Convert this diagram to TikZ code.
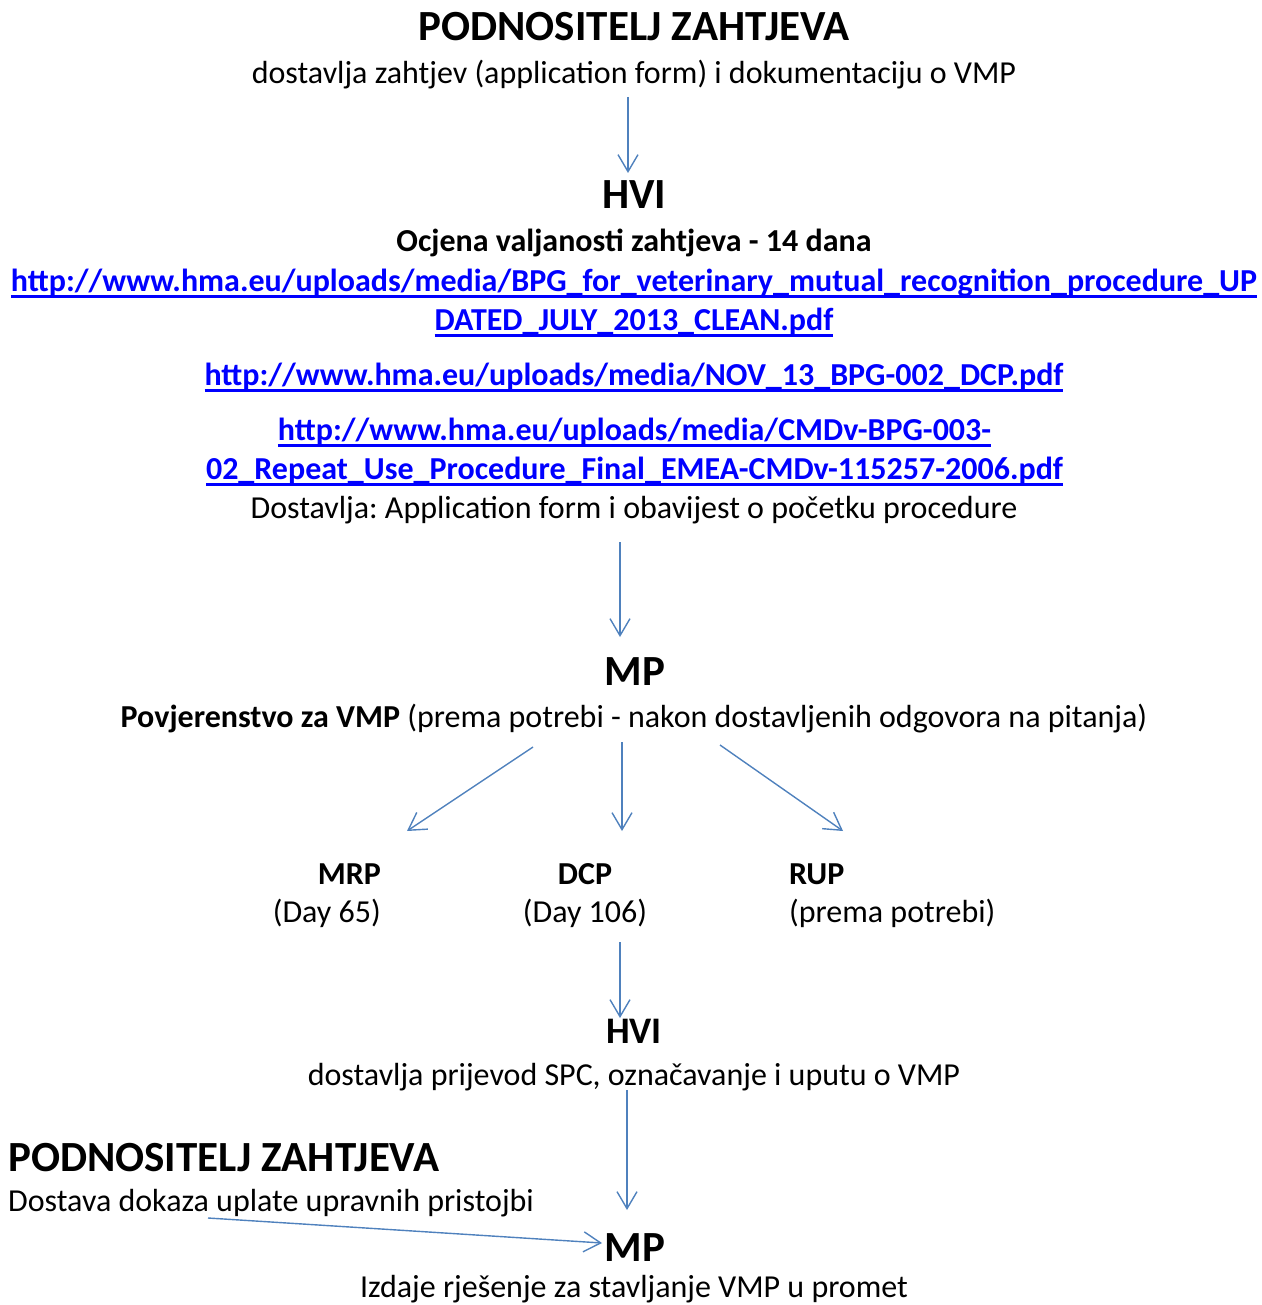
\documentclass[tikz,border=0pt]{standalone}
\usepackage{fontspec}
\setmainfont{Carlito}
\frenchspacing
\usetikzlibrary{arrows.meta}
\definecolor{flowblue}{RGB}{79,129,189}
\definecolor{linkblue}{RGB}{0,0,255}
\newcommand\linkul[1]{\setbox0\hbox{#1}\rlap{\rule[-6.7pt]{\wd0}{2.4pt}}\box0}

\begin{document}
\begin{tikzpicture}[
    x=1pt, y=-1pt,
    head/.style={font=\fontsize{43}{52}\selectfont\bfseries, inner sep=0pt, anchor=base},
    headsmall/.style={font=\fontsize{37.5}{45}\selectfont\bfseries, inner sep=0pt, anchor=base},
    txt/.style={font=\fontsize{32}{39}\selectfont, inner sep=0pt, anchor=base},
    txtb/.style={txt, font=\fontsize{32}{39}\selectfont\bfseries},
    url/.style={txtb, text=linkblue},
    flow/.style={-{Straight Barb[length=17pt, width=20pt]}, draw=flowblue, line width=1.4pt}
]
\useasboundingbox (0,0) rectangle (1261,1305);

% applicant
\node[head] (appl) at (634,41) {PODNOSITELJ ZAHTJEVA};
\node[txt] (applsub) at (634,84) {dostavlja zahtjev (application form) i dokumentaciju o VMP};

% HVI
\node[head] (hvi) at (634,209) {HVI};
\node[txtb] (hvicheck) at (634,252) {Ocjena valjanosti zahtjeva - 14 dana};
\node[url] (urlmrpa) at (634,291) {\linkul{http://www.hma.eu/uploads/media/BPG\_for\_veterinary\_mutual\_recognition\_procedure\_UP}};
\node[url] (urlmrpb) at (634,330) {\linkul{DATED\_JULY\_2013\_CLEAN.pdf}};
\node[url] (urldcp) at (634,385) {\linkul{http://www.hma.eu/uploads/media/NOV\_13\_BPG-002\_DCP.pdf}};
\node[url] (urlrupa) at (634.5,440) {\linkul{http://www.hma.eu/uploads/media/CMDv-BPG-003-}};
\node[url] (urlrupb) at (634.5,479) {\linkul{02\_Repeat\_Use\_Procedure\_Final\_EMEA-CMDv-115257-2006.pdf}};
\node[txt] (hvisub) at (634,518) {Dostavlja: Application form i obavijest o početku procedure};

% MP
\node[head] (mp) at (635,685) {MP};
\node[txt] (mpsub) at (634,727) {\textbf{Povjerenstvo za VMP} (prema potrebi - nakon dostavljenih odgovora na pitanja)};

% procedures
\node[txtb, anchor=base east] (mrp) at (381,884) {MRP};
\node[txt, anchor=base east] (mrpday) at (381,922) {(Day 65)};
\node[txtb] (dcp) at (585,884) {DCP};
\node[txt] (dcpday) at (585,922) {(Day 106)};
\node[txtb, anchor=base west] (rup) at (789,884) {RUP};
\node[txt, anchor=base west] (rupday) at (789,922) {(prema potrebi)};

% HVI translations
\node[headsmall] (hvitr) at (634,1043) {HVI};
\node[txt] (hvitrsub) at (634,1085) {dostavlja prijevod SPC, označavanje i uputu o VMP};

% applicant fees
\node[head, anchor=base west] (applfee) at (8,1171) {PODNOSITELJ ZAHTJEVA};
\node[txt, anchor=base west] (applfeesub) at (8,1211) {Dostava dokaza uplate upravnih pristojbi};

% MP decision
\node[head] (mpdec) at (635,1261) {MP};
\node[txt] (mpdecsub) at (634,1297) {Izdaje rješenje za stavljanje VMP u promet};

% arrow ends
\coordinate (applout) at (628,97);
\coordinate (hviin) at (628,173);
\coordinate (hviout) at (620,542);
\coordinate (mpin) at (620,637);
\coordinate (mpoutl) at (533,747);
\coordinate (mpoutm) at (622,742);
\coordinate (mpoutr) at (720,745);
\coordinate (mrpin) at (407,831);
\coordinate (dcpin) at (622,831);
\coordinate (rupin) at (843,831);
\coordinate (dcpout) at (620,942);
\coordinate (hvitrin) at (620,1018);
\coordinate (hvitrout) at (627,1090);
\coordinate (mpdecin) at (627,1210);
\coordinate (feeout) at (208,1218);
\coordinate (feein) at (602,1243);

% connectors
\draw[flow] (applout) -- (hviin);
\draw[flow] (hviout) -- (mpin);
\draw[flow] (mpoutl) -- (mrpin);
\draw[flow] (mpoutm) -- (dcpin);
\draw[flow] (mpoutr) -- (rupin);
\draw[flow] (dcpout) -- (hvitrin);
\draw[flow] (hvitrout) -- (mpdecin);
\draw[flow] (feeout) -- (feein);

\end{tikzpicture}
\end{document}
